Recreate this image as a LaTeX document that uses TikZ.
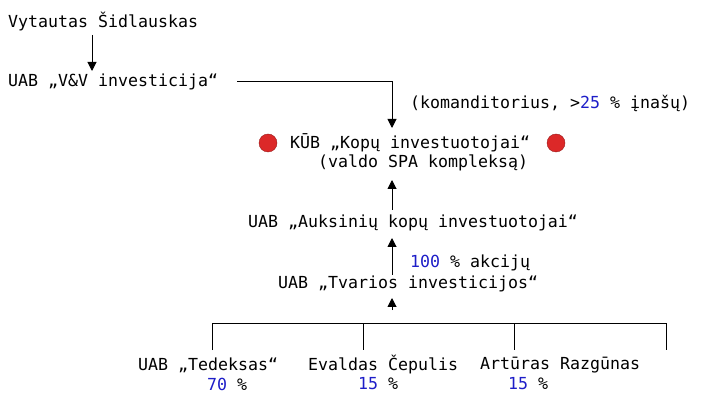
\documentclass[tikz,border=0pt]{standalone}
\usepackage{fontspec}
\setmonofont{DejaVu Sans Mono}
\usetikzlibrary{arrows.meta}
\definecolor{numblue}{RGB}{30,30,200}
\definecolor{emred}{RGB}{220,40,40}
\begin{document}
\begin{tikzpicture}[x=1pt,y=-1pt,
  txt/.style={anchor=west,inner sep=0pt,font=\ttfamily\fontsize{16.6}{18}\selectfont},
  ln/.style={line width=1pt},
  arr/.style={ln,-{Triangle[width=9pt,length=9pt]}},
  dot/.style={circle,fill=emred,draw=emred!70!black,minimum size=18pt,inner sep=0pt}]
\useasboundingbox (0,0) rectangle (720,403);
\node[txt] (vs) at (8,22) {Vytautas Šidlauskas};
\node[txt] (vv) at (8,82) {UAB „V\&V investicija“};
\node[txt] (kom) at (410,103) {(komanditorius, >\textcolor{numblue}{25} \% įnašų)};
\node[dot] (d1) at (268,143) {};
\node[txt] (kub) at (290,143) {KŪB „Kopų investuotojai“};
\node[dot] (d2) at (556,143) {};
\node[txt] (valdo) at (318,163) {(valdo SPA kompleksą)};
\node[txt] (auk) at (248,223) {UAB „Auksinių kopų investuotojai“};
\node[txt] (akc) at (410,263) {\textcolor{numblue}{100} \% akcijų};
\node[txt] (tv) at (278,284) {UAB „Tvarios investicijos“};
\node[txt] (ted) at (138,365) {UAB „Tedeksas“};
\node[txt] (ted2) at (207,384) {\textcolor{numblue}{70} \%};
\node[txt] (ec) at (308,365) {Evaldas Čepulis};
\node[txt] (ec2) at (358,384) {\textcolor{numblue}{15} \%};
\node[txt] (ar) at (480,365) {Artūras Razgūnas};
\node[txt] (ar2) at (508,384) {\textcolor{numblue}{15} \%};
\coordinate (c1) at (92,35);
\coordinate (c2) at (92,71);
\draw[arr] (c1) -- (c2);
\coordinate (h1) at (237,82);
\coordinate (h2) at (392,82);
\coordinate (h3) at (392,128);
\draw[arr] (h1) -- (h2) -- (h3);
\coordinate (u1) at (392,210);
\coordinate (u2) at (392,180);
\draw[arr] (u1) -- (u2);
\coordinate (u3) at (392,275);
\coordinate (u4) at (392,238);
\draw[arr] (u3) -- (u4);
\coordinate (u5) at (392,310);
\coordinate (u6) at (392,298);
\draw[arr] (u5) -- (u6);
\coordinate (b1) at (212,323);
\coordinate (b4) at (666,323);
\draw[ln] (212,350) -- (b1) -- (b4) -- (666,350);
\draw[ln] (363,323) -- (363,350);
\draw[ln] (514,323) -- (514,350);
\end{tikzpicture}
\end{document}
